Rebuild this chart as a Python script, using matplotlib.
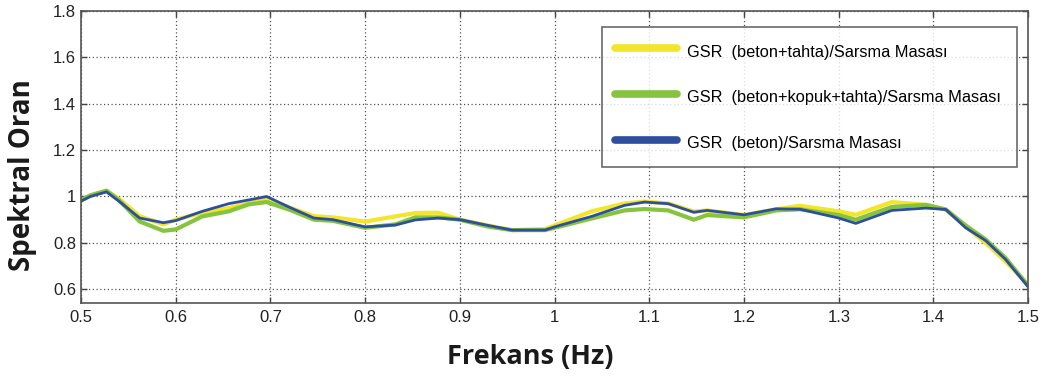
import matplotlib
matplotlib.use("Agg")
import matplotlib.pyplot as plt

# Frequency samples (Hz) and spectral ratios for each configuration
freq = [0.50, 0.51, 0.527, 0.54, 0.562, 0.587, 0.60, 0.628, 0.656, 0.677, 0.696,
        0.722, 0.746, 0.766, 0.80, 0.832, 0.853, 0.877, 0.90, 0.93, 0.955, 0.99,
        1.0, 1.039, 1.074, 1.095, 1.12, 1.147, 1.161, 1.2, 1.234, 1.259, 1.30,
        1.318, 1.356, 1.392, 1.413, 1.434, 1.455, 1.476, 1.50]

gsr_beton_tahta = [0.98, 1.005, 1.025, 0.99, 0.915, 0.88, 0.90, 0.93, 0.95, 0.97, 0.987,
                   0.95, 0.915, 0.91, 0.892, 0.914, 0.929, 0.93, 0.90, 0.875, 0.855, 0.86,
                   0.875, 0.936, 0.97, 0.978, 0.97, 0.935, 0.94, 0.92, 0.945, 0.96, 0.936,
                   0.921, 0.976, 0.964, 0.944, 0.87, 0.80, 0.72, 0.62]

gsr_beton_kopuk_tahta = [0.985, 1.005, 1.025, 0.985, 0.892, 0.852, 0.858, 0.914, 0.936, 0.966, 0.976,
                         0.94, 0.90, 0.895, 0.865, 0.88, 0.91, 0.91, 0.90, 0.87, 0.855, 0.855,
                         0.865, 0.905, 0.94, 0.946, 0.94, 0.90, 0.92, 0.91, 0.94, 0.945, 0.92,
                         0.90, 0.955, 0.964, 0.944, 0.875, 0.815, 0.735, 0.615]

gsr_beton = [0.98, 1.0, 1.02, 0.98, 0.907, 0.887, 0.896, 0.936, 0.969, 0.985, 1.0,
             0.95, 0.907, 0.90, 0.869, 0.877, 0.899, 0.907, 0.90, 0.875, 0.855, 0.855,
             0.869, 0.914, 0.962, 0.976, 0.969, 0.932, 0.94, 0.921, 0.947, 0.945, 0.907,
             0.884, 0.94, 0.95, 0.944, 0.865, 0.81, 0.729, 0.61]

labels = ["GSR  (beton+tahta)/Sarsma Masası",
          "GSR  (beton+kopuk+tahta)/Sarsma Masası",
          "GSR  (beton)/Sarsma Masası"]
colors = ["#f2e52a", "#86c440", "#2d4f9e"]

xticks = [0.5, 0.6, 0.7, 0.8, 0.9, 1.0, 1.1, 1.2, 1.3, 1.4, 1.5]
xticklabels = ["0.5", "0.6", "0.7", "0.8", "0.9", "1", "1.1", "1.2", "1.3", "1.4", "1.5"]
yticks = [0.6, 0.8, 1.0, 1.2, 1.4, 1.6, 1.8]
yticklabels = ["0.6", "0.8", "1", "1.2", "1.4", "1.6", "1.8"]

tick_font = "Liberation Sans"

fig = plt.figure(figsize=(10.46, 3.77), dpi=100)
ax = fig.add_axes([0.0774, 0.1971, 0.9056, 0.7737])

series = [gsr_beton_tahta, gsr_beton_kopuk_tahta, gsr_beton]
widths = [3.0, 3.0, 2.0]
handles = []
for vals, col, lw, lab in zip(series, colors, widths, labels):
    ax.plot(freq, vals, color=col, lw=lw, solid_joinstyle="round")
    h, = ax.plot([], [], color=col, lw=5.5, solid_capstyle="round", label=lab)
    handles.append(h)

ax.set_xlim(0.5, 1.5)
ax.set_ylim(0.542, 1.8)
ax.set_xticks(xticks)
ax.set_xticklabels(xticklabels, fontfamily=tick_font, fontsize=12)
ax.set_yticks(yticks)
ax.set_yticklabels(yticklabels, fontfamily=tick_font, fontsize=12)
ax.tick_params(axis="x", pad=5)
ax.tick_params(axis="y", pad=3.5)
ax.tick_params(direction="in", top=True, right=True, length=4.5, width=1, colors="#444444",
               labelcolor="#222222")
ax.grid(True, color="#555555", linestyle=(0, (1, 2)), linewidth=0.9)
for sp in ax.spines.values():
    sp.set_color("#555555")
    sp.set_linewidth(1.2)

ax.set_xlabel("Frekans (Hz)", fontfamily="Open Sans", fontweight="bold", fontsize=19.5,
              color="#1a1a1a", va="center", ha="center")
ax.xaxis.set_label_coords(0.4745, -0.186)
ax.set_ylabel("Spektral Oran", fontfamily="Open Sans", fontweight="bold", fontsize=20,
              color="#1a1a1a", va="center", ha="center")
ax.yaxis.set_label_coords(-0.0612, 0.436)

leg = ax.legend(handles=handles, loc="upper left",
                bbox_to_anchor=(0.55, 0.945, 0.438, 0.0), mode="expand",
                borderaxespad=0.0,
                prop={"family": "Liberation Sans", "size": 11.8}, frameon=True,
                fancybox=False, edgecolor="#444444", handlelength=3.8,
                handleheight=1.7, labelspacing=1.45, borderpad=0.8,
                handletextpad=0.6)
leg.get_frame().set_linewidth(1.2)

fig.savefig("out.png", dpi=100)
